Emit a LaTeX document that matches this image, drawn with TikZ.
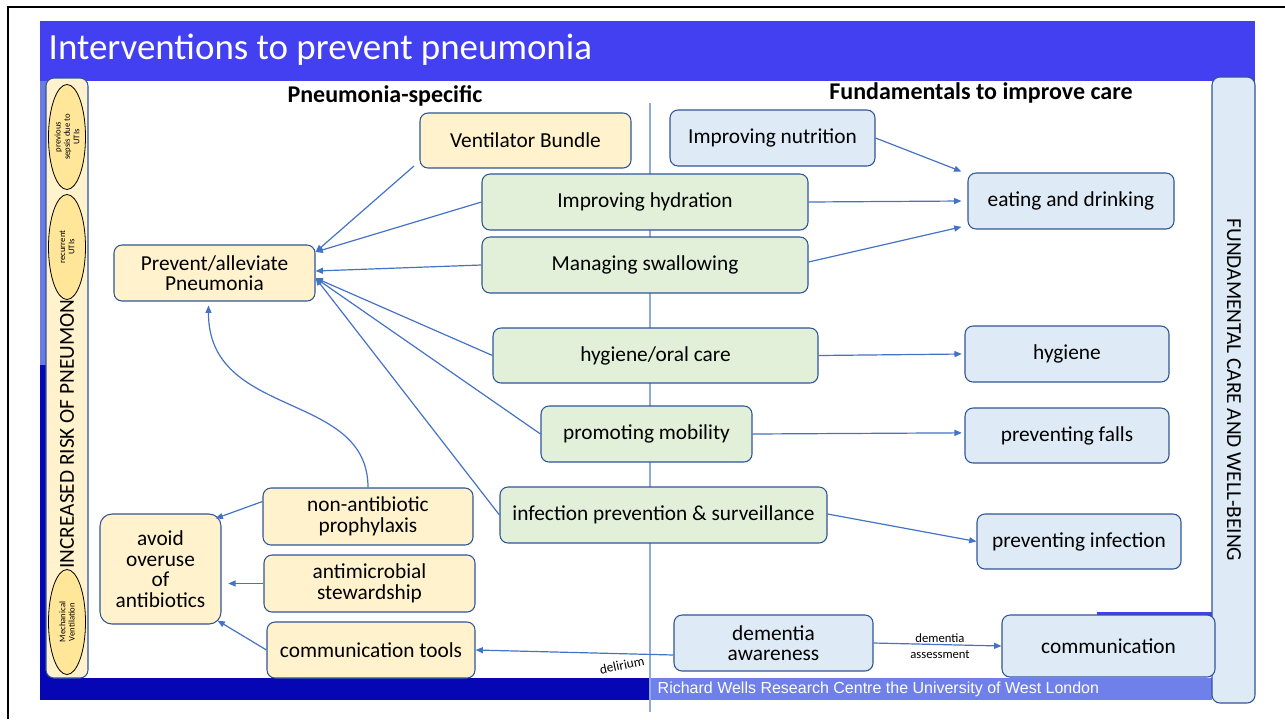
\documentclass[tikz,border=0pt]{standalone}
\usepackage{fontspec}
\setmainfont{Carlito}
\newfontfamily\arialf{Liberation Sans}
\usetikzlibrary{arrows.meta,shapes.geometric}
\definecolor{titleblue}{HTML}{4340F2}
\definecolor{darkblue}{HTML}{0606B4}
\definecolor{footblue}{HTML}{6F80EA}
\definecolor{striplight}{HTML}{6A7CE0}
\definecolor{yel}{HTML}{FFF2CC}
\definecolor{grn}{HTML}{E2F0D9}
\definecolor{blu}{HTML}{DEEBF7}
\definecolor{bord}{HTML}{2F5597}
\definecolor{arrc}{HTML}{4472C4}
\definecolor{vline}{HTML}{8FAADC}
\definecolor{ell}{HTML}{FFE699}
\tikzset{
  base/.style={draw=bord, line width=0.8pt, rounded corners=6pt, align=center,
    font=\fontsize{16}{15.5}\selectfont, inner sep=2pt},
  yb/.style={base, fill=yel},
  gb/.style={base, fill=grn},
  bb/.style={base, fill=blu},
  sz/.style 2 args={minimum width=#1*0.75pt, minimum height=#2*0.75pt},
  arr/.style={draw=arrc, line width=0.9pt, -{Triangle[length=5.5pt,width=4.5pt]}},
  riskell/.style={ellipse, draw=black, line width=0.6pt, fill=ell, rotate=90,
    minimum width=105*0.75pt, minimum height=37*0.75pt, inner sep=0pt, align=center,
    font=\fontsize{6.5}{7}\selectfont},
  head/.style={font=\fontsize{18}{20}\selectfont\bfseries},
  small/.style={font=\fontsize{9.5}{10}\selectfont, align=center},
}
\begin{document}
\begin{tikzpicture}[x=0.75pt,y=-0.75pt]
\useasboundingbox (0,0) rectangle (1285,719);
% frame
\draw[line width=1.5pt] (8,719) -- (8,7) -- (1285,7);
% title bar
\fill[titleblue] (40,21) rectangle (1255,81);
\node[anchor=west, text=white, font=\fontsize{27.7}{32}\selectfont] (title) at (44,50) {Interventions to prevent pneumonia};
% left strip and bottom bars
\fill[striplight] (40,81) rectangle (60,365);
\fill[darkblue] (40,365) rectangle (60,700);
\fill[darkblue] (40,678) rectangle (650,700);
\fill[footblue] (650,678) rectangle (1212,700);
\node[anchor=west, text=white, font=\arialf\fontsize{12}{14}\selectfont] (foot) at (653,689) {Richard Wells Research Centre the University of West London};
% vertical divider
\draw[vline, line width=1.2pt] (650,103) -- (650,712);
% thin strip above communication
\fill[titleblue] (1097,612) rectangle (1212,616);
% left panel
\draw[bord, fill=yel, line width=0.8pt, rounded corners=6pt] (46,78) rectangle (88,678);
\node[riskell] (e1) at (67,137) {previous\\sepsis due to\\UTIs};
\node[riskell] (e2) at (67,247) {recurrent\\UTIs};
\node[riskell] (e3) at (67,622) {Mechanical\\Ventilation};
\node[rotate=90, font=\fontsize{16}{18}\selectfont] (risk) at (67,434) {INCREASED RISK OF PNEUMON};
% right panel
\draw[bord, fill=blu, line width=0.8pt, rounded corners=6pt] (1212,77) rectangle (1255,703);
\node[rotate=-90, font=\fontsize{16}{18}\selectfont] (fund) at (1234,390) {FUNDAMENTAL CARE AND WELL-BEING};
% headings
\node[head] (h1) at (385,96) {Pneumonia-specific};
\node[head] (h2) at (981,93) {Fundamentals to improve care};
% nodes
\node[yb, sz={211}{55}] (vb) at (525.5,140.5) {Ventilator Bundle};
\node[bb, sz={205}{56}] (nut) at (772.5,138) {Improving nutrition};
\node[gb, sz={326}{56}] (hyd) at (645,202) {Improving hydration};
\node[gb, sz={326}{56}] (swa) at (645,265) {Managing swallowing};
\node[bb, sz={206}{56}] (eat) at (1071,201) {eating and drinking};
\node[yb, sz={201}{56}] (prev) at (214.5,273) {Prevent/alleviate\\Pneumonia};
\node[gb, sz={325}{55}] (oral) at (655.5,355.5) {hygiene/oral care};
\node[bb, sz={204}{56}] (hyg) at (1067,354) {hygiene};
\node[gb, sz={211}{56}] (mob) at (646.5,434) {promoting mobility};
\node[bb, sz={204}{55}] (fall) at (1067,435.5) {preventing falls};
\node[gb, sz={327}{56}] (inf) at (663.5,515) {infection prevention \& surveillance};
\node[bb, sz={204}{55}] (pinf) at (1079,541.5) {preventing infection};
\node[yb, sz={210}{57}] (proph) at (368,516.5) {non-antibiotic\\prophylaxis};
\node[yb, sz={121}{110}, rounded corners=9pt] (avoid) at (160.5,569) {avoid\\overuse\\of\\antibiotics};
\node[yb, sz={211}{57}] (stew) at (369.5,583.5) {antimicrobial\\stewardship};
\node[yb, sz={208}{56}] (ctool) at (371,650) {communication tools};
\node[bb, sz={199}{56}] (dem) at (773.5,643) {dementia\\awareness};
\node[bb, sz={213}{62}] (comm) at (1108.5,646) {communication};
% arrows into Prevent/alleviate
\coordinate (vbs) at (414,166);
\draw[arr] (vbs) -- ([yshift=15.75pt]prev.east);
\draw[arr] (hyd.west) -- ([yshift=15.75pt]prev.east);
\draw[arr] (swa.west) -- ([yshift=1.5pt]prev.east);
\draw[arr] (oral.west) -- ([yshift=-3.75pt]prev.east);
\draw[arr] (mob.west) -- ([yshift=-3.75pt]prev.east);
\draw[arr] (inf.west) -- ([yshift=-3.75pt]prev.east);
% arrows to fundamentals
\draw[arr] (nut.east) -- ([xshift=-4.5pt,yshift=0.75pt]eat.north west);
\draw[arr] (hyd.east) -- ([xshift=-4.5pt]eat.west);
\draw[arr] ([yshift=2.25pt]swa.east) -- ([xshift=-4.5pt,yshift=2pt]eat.south west);
\draw[arr] (oral.east) -- ([xshift=-2pt]hyg.west);
\draw[arr] (mob.east) -- ([xshift=-2pt,yshift=2pt]fall.west);
\draw[arr] ([yshift=0.75pt]inf.east) -- (pinf.west);
% avoid overuse
\draw[arr] ([yshift=11.25pt]proph.west) -- ([xshift=-4.5pt,yshift=-3.75pt]avoid.north east);
\draw[arr] (stew.west) -- ([xshift=5pt]stew.west -| avoid.east);
\draw[arr] (ctool.west) -- ([xshift=-3pt,yshift=3pt]avoid.south east);
\draw[arr] (proph.north) .. controls (368,390) and (208,420) .. ([xshift=-4.5pt,yshift=-3pt]prev.south);
% dementia
\draw[arr] ([yshift=-9pt]dem.west) -- (ctool.east);
\node[small, rotate=12, font=\fontsize{10}{10}\selectfont] (del) at (622,665) {delirium};
\draw[arr] (dem.east) -- (comm.west);
\node[small] (dass) at (940,646) {dementia\\[2pt]assessment};
\end{tikzpicture}
\end{document}
